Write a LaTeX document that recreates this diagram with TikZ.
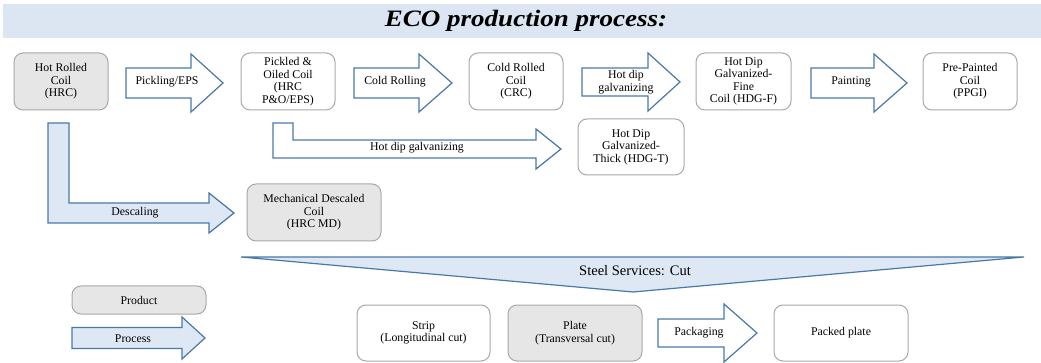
\documentclass[tikz,border=0pt]{standalone}
\usepackage{fontspec}
\setmainfont{Liberation Serif}
\begin{document}
\begin{tikzpicture}[x=1pt,y=-1pt,
  blueedge/.style={draw=arrowblue, line width=1.2pt, line join=miter},
  procfill/.style={blueedge, fill=lightblue},
  procopen/.style={blueedge, fill=white},
  boxbase/.style={rounded corners=9pt, draw=boxgray, line width=1pt, align=center,
    inner sep=0pt, font=\fontsize{11.8}{12.5}\selectfont},
  product/.style={boxbase, fill=prodgray},
  result/.style={boxbase, fill=white},
  lbl/.style={font=\fontsize{11.8}{12.5}\selectfont, align=center, inner sep=0pt}]
\definecolor{arrowblue}{HTML}{4A78A8}
\definecolor{lightblue}{HTML}{DEE8F4}
\definecolor{bannerblue}{HTML}{DCE6F2}
\definecolor{prodgray}{HTML}{E6E6E6}
\definecolor{boxgray}{HTML}{A8A8A8}

% straight block arrow: tail x, head base x, tip x, mid y, half body, half head
\newcommand\blockarrow[7]{%
  \draw[#1] ({#2},{#5-#6}) -- ({#3},{#5-#6}) -- ({#3},{#5-#7}) -- ({#4},{#5})
    -- ({#3},{#5+#7}) -- ({#3},{#5+#6}) -- ({#2},{#5+#6}) -- cycle;}

\useasboundingbox (0,0) rectangle (1041,363);

% title banner
\fill[bannerblue] (3,4) rectangle (1041,38);
\node[inner sep=0pt] (title) at (526,21)
  {\scalebox{1.15}[1]{\fontsize{23.5}{26}\selectfont\bfseries\itshape ECO production process:}};

% products and intermediate coils
\node[product, minimum width=94pt, minimum height=57pt] (hrc) at (61,81.5) {Hot Rolled\\Coil\\(HRC)};
\node[result, minimum width=94pt, minimum height=57pt] (po) at (288,81.5) {Pickled \&\\Oiled Coil\\(HRC\\P\&O/EPS)};
\node[result, minimum width=94pt, minimum height=57pt] (crc) at (516,81.5) {Cold Rolled\\Coil\\(CRC)};
\node[result, minimum width=95pt, minimum height=57pt] (hdgf) at (743.5,81.5) {Hot Dip\\Galvanized-\\Fine\\Coil (HDG-F)};
\node[result, minimum width=94pt, minimum height=57pt] (ppgi) at (970,81.5) {Pre-Painted\\Coil\\(PPGI)};
\node[result, minimum width=106pt, minimum height=56pt] (hdgt) at (631,147) {Hot Dip\\Galvanized-\\Thick (HDG-T)};
\node[product, minimum width=134pt, minimum height=57pt] (hrcmd) at (314,212.5) {Mechanical Descaled\\Coil\\(HRC MD)};

% main line processes
\blockarrow{procopen}{126}{191}{223}{83}{15}{29}
\node[lbl] (pickling) at (167,82) {Pickling/EPS};
\blockarrow{procopen}{354}{419}{452}{83}{15}{29}
\node[lbl] (coldroll) at (395,82) {Cold Rolling};
\blockarrow{procopen}{582}{648}{680}{82}{14}{29}
\node[lbl] (hdgfine) at (626,82) {Hot dip\\galvanizing};
\blockarrow{procopen}{811}{874}{907}{83}{15}{29}
\node[lbl] (paint) at (851,82) {Painting};

% branch: pickled coil to thick galvanized coil
\draw[procopen] (273,123) -- (293,123) -- (293,140) -- (536,140) -- (536,129) -- (561,149)
  -- (536,169) -- (536,158) -- (273,158) -- cycle;
\node[lbl] (hdgthick) at (417,148) {Hot dip galvanizing};

% branch: hot rolled coil to descaled coil
\draw[procfill] (48,123) -- (69,123) -- (69,203) -- (209,203) -- (209,193) -- (234,213)
  -- (209,233) -- (209,223) -- (48,223) -- cycle;
\node[lbl] (descale) at (135,213) {Descaling};

% steel services funnel
\draw[procfill] (241,257) -- (1024,257) -- (633,292) -- cycle;
\node[inner sep=0pt, font=\fontsize{14.5}{16}\selectfont] (cut) at (635,271) {Steel Services: Cut};

% cut products
\node[result, minimum width=133pt, minimum height=56pt] (strip) at (423.5,333) {Strip\\(Longitudinal cut)};
\node[product, minimum width=134pt, minimum height=56pt] (plate) at (575,333) {Plate\\(Transversal cut)};
\blockarrow{procopen}{658}{724}{757}{333}{14}{29}
\node[lbl] (pack) at (699,333) {Packaging};
\node[result, minimum width=134pt, minimum height=56pt] (packed) at (841,333) {Packed plate};

% legend
\node[product, minimum width=134pt, minimum height=28pt] (legprod) at (139,300) {Product};
\blockarrow{procfill}{72}{182}{205}{338}{10.5}{21}
\node[lbl] (legproc) at (133,339) {Process};
\end{tikzpicture}
\end{document}
